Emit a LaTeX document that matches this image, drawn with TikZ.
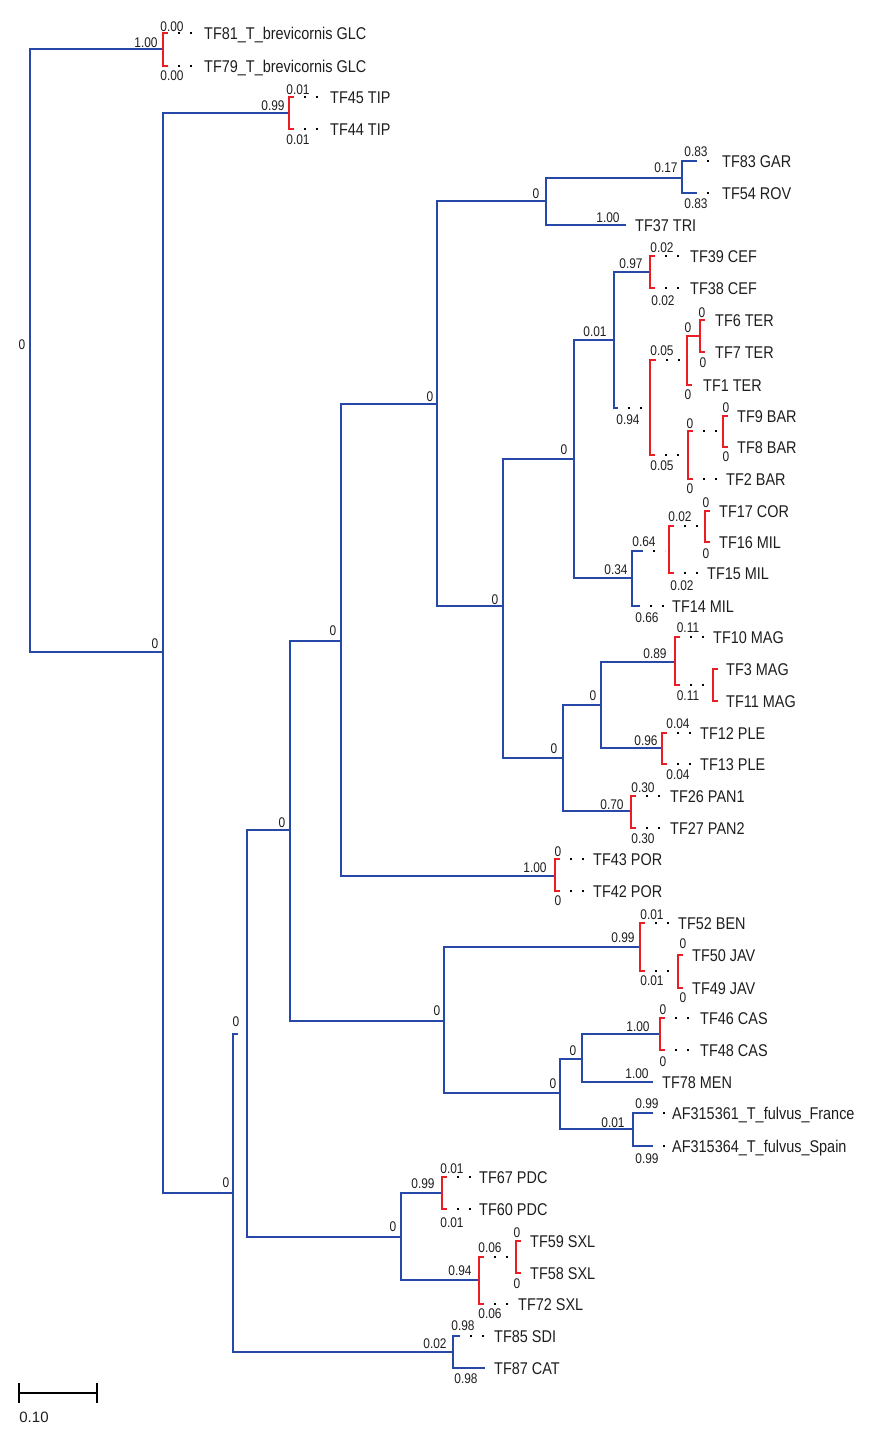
\documentclass[tikz,border=0pt]{standalone}
\usepackage{fontspec}
\setmainfont[FakeStretch=0.85]{Liberation Sans}
\newfontfamily\scalefont{Liberation Sans}
\usetikzlibrary{calc}
\definecolor{tblue}{RGB}{38,72,168}
\definecolor{tred}{RGB}{236,28,36}
\definecolor{ttext}{RGB}{30,30,30}
\tikzset{
  br/.style={line width=2.2pt},
  bb/.style={br, draw=tblue},
  rb/.style={br, draw=tred},
  leader/.style={draw=black, line width=1.7pt, dash pattern=on 1.7pt off 10.3pt},
  leafnode/.style={anchor=west, inner sep=0pt, text height=12.2pt, text depth=0pt, font=\fontsize{17}{17}\selectfont, text=ttext},
  suplab/.style={inner sep=0pt, text height=10pt, text depth=0pt, font=\fontsize{14}{14}\selectfont, text=ttext},
}
\newcounter{supc}
\newcommand\slab[3]{\stepcounter{supc}\node[suplab] (sl\arabic{supc}) at (#1,#2) {#3};}
\newcommand\tleaf[4]{\node[leafnode] (#1) at (#2,#3) {#4};}
\newcommand\tsolid[3]{\draw[#1] (#2) |- (#3);}
\newcommand\tstub[3]{\draw[#1] (#2) |- ($(#2|-#3)+(5,0)$);}
\newcommand\tdot[4]{\draw[#1] (#2) |- ($(#2|-#3)+(#4,0)$);
  \draw[leader] ($(#2|-#3)+(#4+10,0)$) -- ($(#3.west)+(-5,0)$);}
\newcommand\tdoti[4]{\draw[#1] (#2) |- ($(#2|-#3)+(#4,0)$);
  \draw[leader] ($(#2|-#3)+(#4+10,0)$) -- ($(#3)+(-4,0)$);}
\newcommand\tfull[3]{\draw[#1] (#2) |- ($(#3.west)+(-9,0)$);}
\begin{document}
\begin{tikzpicture}[x=1pt,y=-1pt]
\path[use as bounding box] (0,0) rectangle (877,1435);
% internal nodes
\coordinate (R) at (30,344);
\coordinate (A) at (163,49);
\coordinate (B) at (163,652);
\coordinate (C) at (289,113);
\coordinate (D) at (233,1193);
\coordinate (E) at (247,1034);
\coordinate (F) at (290,830);
\coordinate (G) at (341,641);
\coordinate (H) at (437,404);
\coordinate (I) at (546,201);
\coordinate (J) at (682,178);
\coordinate (K) at (503,606);
\coordinate (L) at (574,459);
\coordinate (M) at (614,340);
\coordinate (N) at (650,272);
\coordinate (O) at (650,408);
\coordinate (P) at (687,360);
\coordinate (Q) at (700,336);
\coordinate (S) at (688,455);
\coordinate (T) at (723,431);
\coordinate (U) at (632,578);
\coordinate (V) at (669,551);
\coordinate (W) at (705,526);
\coordinate (X) at (563,758);
\coordinate (Y) at (601,705);
\coordinate (Z) at (675,662);
\coordinate (AA) at (713,685);
\coordinate (AB) at (662,748);
\coordinate (AC) at (631,811);
\coordinate (AD) at (555,876);
\coordinate (AE) at (444,1021);
\coordinate (AF) at (640,947);
\coordinate (AG) at (678,971);
\coordinate (AH) at (560,1093);
\coordinate (AI) at (582,1059);
\coordinate (AJ) at (660,1034);
\coordinate (AK) at (633,1129);
\coordinate (AL) at (401,1237);
\coordinate (AM) at (442,1193);
\coordinate (AN) at (479,1280);
\coordinate (AO) at (516,1257);
\coordinate (AP) at (453,1352);
% leaves
\tleaf{l81}{204}{33}{TF81\_T\_brevicornis GLC}
\tleaf{l79}{204}{66}{TF79\_T\_brevicornis GLC}
\tleaf{l45}{330}{97}{TF45 TIP}
\tleaf{l44}{330}{129}{TF44 TIP}
\tleaf{l83}{722}{161}{TF83 GAR}
\tleaf{l54}{722}{193}{TF54 ROV}
\tleaf{l37}{635}{225}{TF37 TRI}
\tleaf{l39}{690}{256}{TF39 CEF}
\tleaf{l38}{690}{288}{TF38 CEF}
\tleaf{l6}{715}{320}{TF6 TER}
\tleaf{l7}{715}{352}{TF7 TER}
\tleaf{l1}{703}{385}{TF1 TER}
\tleaf{l9}{737}{416}{TF9 BAR}
\tleaf{l8}{737}{447}{TF8 BAR}
\tleaf{l2}{726}{479}{TF2 BAR}
\tleaf{l17}{719}{511}{TF17 COR}
\tleaf{l16}{719}{542}{TF16 MIL}
\tleaf{l15}{707}{573}{TF15 MIL}
\tleaf{l14}{672}{606}{TF14 MIL}
\tleaf{l10}{713}{637}{TF10 MAG}
\tleaf{l3}{726}{669}{TF3 MAG}
\tleaf{l11}{726}{701}{TF11 MAG}
\tleaf{l12}{700}{733}{TF12 PLE}
\tleaf{l13}{700}{764}{TF13 PLE}
\tleaf{l26}{670}{796}{TF26 PAN1}
\tleaf{l27}{670}{828}{TF27 PAN2}
\tleaf{l43}{593}{859}{TF43 POR}
\tleaf{l42}{593}{891}{TF42 POR}
\tleaf{l52}{678}{923}{TF52 BEN}
\tleaf{l50}{692}{955}{TF50 JAV}
\tleaf{l49}{692}{988}{TF49 JAV}
\tleaf{l46}{700}{1018}{TF46 CAS}
\tleaf{l48}{700}{1050}{TF48 CAS}
\tleaf{l78}{662}{1082}{TF78 MEN}
\tleaf{lfr}{672}{1113}{AF315361\_T\_fulvus\_France}
\tleaf{lsp}{672}{1146}{AF315364\_T\_fulvus\_Spain}
\tleaf{l67}{479}{1177}{TF67 PDC}
\tleaf{l60}{479}{1209}{TF60 PDC}
\tleaf{l59}{530}{1241}{TF59 SXL}
\tleaf{l58}{530}{1273}{TF58 SXL}
\tleaf{l72}{518}{1304}{TF72 SXL}
\tleaf{l85}{494}{1336}{TF85 SDI}
\tleaf{l87}{494}{1368}{TF87 CAT}
% edges
\tsolid{bb}{R}{A} \tsolid{bb}{R}{B}
\tdot{rb}{A}{l81}{5} \tdot{rb}{A}{l79}{5}
\tsolid{bb}{B}{C} \tsolid{bb}{B}{D}
\tdot{rb}{C}{l45}{5} \tdot{rb}{C}{l44}{5}
\draw[bb] (D) |- ($(D|-E)+(5,0)$);
\tsolid{bb}{D}{AP}
\tsolid{bb}{E}{F} \tsolid{bb}{E}{AL}
\tsolid{bb}{F}{G} \tsolid{bb}{F}{AE}
\tsolid{bb}{G}{H} \tsolid{bb}{G}{AD}
\tsolid{bb}{H}{I} \tsolid{bb}{H}{K}
\tsolid{bb}{I}{J} \tfull{bb}{I}{l37}
\tdot{bb}{J}{l83}{15} \tdot{bb}{J}{l54}{15}
\tsolid{bb}{K}{L} \tsolid{bb}{K}{X}
\tsolid{bb}{L}{M} \tsolid{bb}{L}{U}
\tsolid{bb}{M}{N} \tdoti{bb}{M}{O}{4}
\tdot{rb}{N}{l39}{5} \tdot{rb}{N}{l38}{5}
\tdoti{rb}{O}{P}{6} \tdoti{rb}{O}{S}{5}
\tsolid{rb}{P}{Q} \tstub{rb}{P}{l1}
\tstub{rb}{Q}{l6} \tstub{rb}{Q}{l7}
\tdoti{rb}{S}{T}{5} \tdot{rb}{S}{l2}{5}
\tstub{rb}{T}{l9} \tstub{rb}{T}{l8}
\tdoti{bb}{U}{V}{11} \tdot{bb}{U}{l14}{8}
\tdoti{rb}{V}{W}{5} \tdot{rb}{V}{l15}{5}
\tstub{rb}{W}{l17} \tstub{rb}{W}{l16}
\tsolid{bb}{X}{Y} \tsolid{bb}{X}{AC}
\tsolid{bb}{Y}{Z} \tsolid{bb}{Y}{AB}
\tdot{rb}{Z}{l10}{5} \tdoti{rb}{Z}{AA}{5}
\tstub{rb}{AA}{l3} \tstub{rb}{AA}{l11}
\tdot{rb}{AB}{l12}{5} \tdot{rb}{AB}{l13}{5}
\tdot{rb}{AC}{l26}{5} \tdot{rb}{AC}{l27}{5}
\tdot{rb}{AD}{l43}{5} \tdot{rb}{AD}{l42}{5}
\tsolid{bb}{AE}{AF} \tsolid{bb}{AE}{AH}
\tdot{rb}{AF}{l52}{5} \tdoti{rb}{AF}{AG}{5}
\tstub{rb}{AG}{l50} \tstub{rb}{AG}{l49}
\tsolid{bb}{AH}{AI} \tsolid{bb}{AH}{AK}
\tsolid{bb}{AI}{AJ} \tfull{bb}{AI}{l78}
\tdot{rb}{AJ}{l46}{5} \tdot{rb}{AJ}{l48}{5}
\tdot{bb}{AK}{lfr}{20} \tdot{bb}{AK}{lsp}{20}
\tsolid{bb}{AL}{AM} \tsolid{bb}{AL}{AN}
\tdot{rb}{AM}{l67}{5} \tdot{rb}{AM}{l60}{5}
\tdoti{rb}{AN}{AO}{5} \tdot{rb}{AN}{l72}{5}
\tstub{rb}{AO}{l59} \tstub{rb}{AO}{l58}
\tdot{bb}{AP}{l85}{7} \tfull{bb}{AP}{l87}
% support values
\slab{22}{344}{0}
\slab{146}{42}{1.00}
\slab{172}{26}{0.00}
\slab{172}{75}{0.00}
\slab{155}{643}{0}
\slab{273}{105}{0.99}
\slab{298}{89}{0.01}
\slab{298}{139}{0.01}
\slab{226}{1182}{0}
\slab{236}{1021}{0}
\slab{282}{822}{0}
\slab{333}{630}{0}
\slab{430}{396}{0}
\slab{536}{193}{0}
\slab{666}{167}{0.17}
\slab{696}{151}{0.83}
\slab{696}{203}{0.83}
\slab{608}{217}{1.00}
\slab{631}{263}{0.97}
\slab{662}{247}{0.02}
\slab{663}{300}{0.02}
\slab{595}{331}{0.01}
\slab{628}{419}{0.94}
\slab{662}{350}{0.05}
\slab{688}{327}{0}
\slab{702}{312}{0}
\slab{703}{362}{0}
\slab{688}{394}{0}
\slab{662}{465}{0.05}
\slab{690}{423}{0}
\slab{690}{488}{0}
\slab{726}{407}{0}
\slab{726}{456}{0}
\slab{564}{449}{0}
\slab{495}{599}{0}
\slab{616}{569}{0.34}
\slab{644}{541}{0.64}
\slab{680}{516}{0.02}
\slab{706}{502}{0}
\slab{706}{553}{0}
\slab{682}{585}{0.02}
\slab{647}{617}{0.66}
\slab{655}{653}{0.89}
\slab{688}{627}{0.11}
\slab{688}{695}{0.11}
\slab{593}{695}{0}
\slab{646}{740}{0.96}
\slab{678}{723}{0.04}
\slab{678}{774}{0.04}
\slab{554}{748}{0}
\slab{612}{804}{0.70}
\slab{643}{787}{0.30}
\slab{643}{838}{0.30}
\slab{535}{867}{1.00}
\slab{558}{851}{0}
\slab{558}{900}{0}
\slab{623}{937}{0.99}
\slab{652}{914}{0.01}
\slab{652}{980}{0.01}
\slab{683}{943}{0}
\slab{683}{997}{0}
\slab{437}{1010}{0}
\slab{553}{1083}{0}
\slab{573}{1050}{0}
\slab{638}{1026}{1.00}
\slab{663}{1009}{0}
\slab{663}{1061}{0}
\slab{637}{1073}{1.00}
\slab{613}{1122}{0.01}
\slab{647}{1103}{0.99}
\slab{647}{1158}{0.99}
\slab{393}{1226}{0}
\slab{423}{1183}{0.99}
\slab{452}{1168}{0.01}
\slab{452}{1222}{0.01}
\slab{460}{1270}{0.94}
\slab{490}{1247}{0.06}
\slab{490}{1313}{0.06}
\slab{517}{1232}{0}
\slab{517}{1283}{0}
\slab{435}{1343}{0.02}
\slab{463}{1325}{0.98}
\slab{466}{1378}{0.98}
% scale bar
\coordinate (sb1) at (19,1393);
\coordinate (sb2) at (97,1393);
\draw[line width=1.5pt] (sb1) -- (sb2);
\draw[line width=1.5pt] ($(sb1)+(0,-10)$) -- ($(sb1)+(0,10)$);
\draw[line width=1.5pt] ($(sb2)+(0,-10)$) -- ($(sb2)+(0,10)$);
\node[inner sep=0pt, text height=11pt, text depth=0pt, font=\scalefont\fontsize{15}{15}\selectfont, text=ttext] (sblab) at (34,1417) {0.10};
\end{tikzpicture}
\end{document}
